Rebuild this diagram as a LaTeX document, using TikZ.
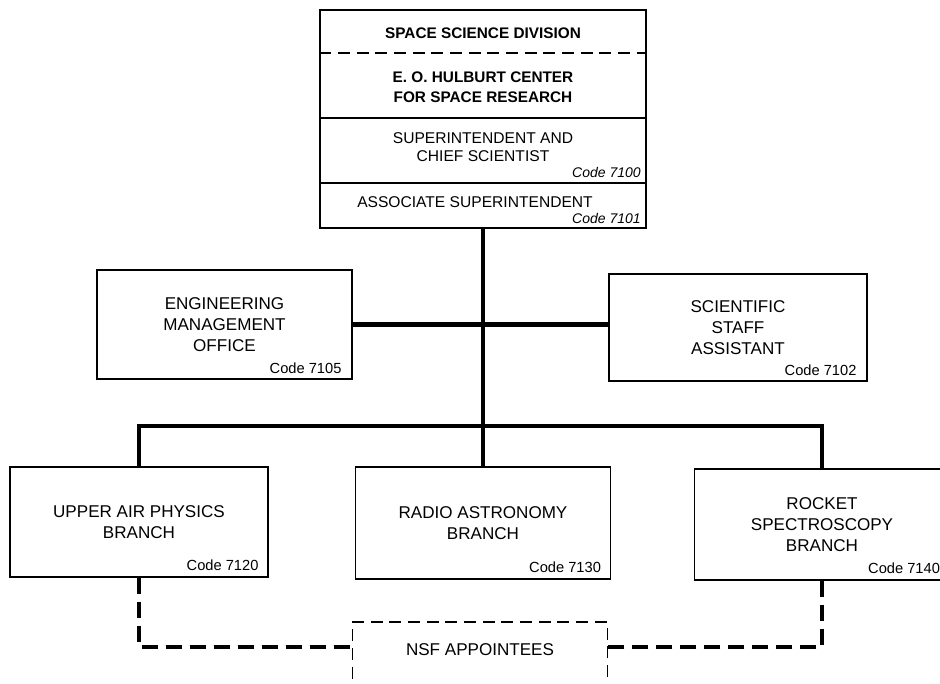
\documentclass[tikz,border=0pt]{standalone}
\usepackage{fontspec}
\setmainfont{Liberation Sans}
\begin{document}
\begin{tikzpicture}[x=0.75pt,y=-0.75pt,
  box/.style={draw=black,line width=1.1pt,inner sep=0pt,align=center,
    font=\fontsize{12.8}{16}\selectfont},
  nsfbox/.style={draw=black,line width=0.8pt,dash pattern=on 9pt off 5pt,inner sep=0pt},
  conn/.style={line width=3.3pt,line cap=rect},
  dconn/.style={line width=3.3pt,dash pattern=on 12pt off 6pt},
  codelbl/.style={anchor=base east,inner sep=0pt,font=\fontsize{11}{12}\selectfont},
  topcode/.style={anchor=base east,inner sep=0pt,font=\fontsize{10.5}{11}\itshape},
  toptxt/.style={align=center,inner sep=0pt,font=\fontsize{11.7}{13.5}\selectfont},
  topbold/.style={align=center,inner sep=0pt,font=\fontsize{11.5}{15}\bfseries}]
\useasboundingbox (0,0) rectangle (940,683);
\clip (0,0) rectangle (940,683);

% top box
\node[box,minimum width=244.5pt,minimum height=163.5pt] (top) at (483,119) {};
\draw[line width=0.8pt,dash pattern=on 9pt off 5pt] (top.west |- 0,53) -- (top.east |- 0,53);
\draw[line width=1.1pt] (top.west |- 0,118) -- (top.east |- 0,118);
\draw[line width=1.1pt] (top.west |- 0,183) -- (top.east |- 0,183);
\node[topbold] (t1) at (483,33) {SPACE SCIENCE DIVISION};
\node[topbold] (t2) at (483,87) {E. O. HULBURT CENTER\\FOR SPACE RESEARCH};
\node[toptxt] (t3) at (483,147) {SUPERINTENDENT AND\\CHIEF SCIENTIST};
\node[topcode] (c7100) at (641,177) {Code 7100};
\node[toptxt] (t4) at (475,202) {ASSOCIATE SUPERINTENDENT};
\node[topcode] (c7101) at (641,223) {Code 7101};

% staff boxes
\node[box,minimum width=191.25pt,minimum height=81.75pt] (eng) at (224.5,324.5) {ENGINEERING\\MANAGEMENT\\OFFICE};
\node[codelbl] (c7105) at ([shift={(-11,-6)}]eng.south east) {Code 7105};
\node[box,minimum width=193.5pt,minimum height=80.25pt] (sci) at (738,327.5) {SCIENTIFIC\\STAFF\\ASSISTANT};
\node[codelbl] (c7102) at ([shift={(-11,-6)}]sci.south east) {Code 7102};

% branches
\node[box,minimum width=193.5pt,minimum height=82.5pt] (upper) at (139,522) {UPPER AIR PHYSICS\\BRANCH};
\node[codelbl] (c7120) at ([shift={(-10,-7)}]upper.south east) {Code 7120};
\node[box,minimum width=191.25pt,minimum height=84pt] (radio) at (483,523) {RADIO ASTRONOMY\\BRANCH};
\node[codelbl] (c7130) at ([shift={(-10,-7)}]radio.south east) {Code 7130};
\node[box,minimum width=191.25pt,minimum height=83.25pt] (rocket) at (822,524.5) {ROCKET\\SPECTROSCOPY\\BRANCH};
\node[codelbl] (c7140) at ([shift={(-10,-7)}]rocket.south east) {Code 7140};

% NSF
\node[nsfbox,minimum width=191.25pt,minimum height=60pt] (nsf) at (480,662) {};
\node[inner sep=0pt,font=\fontsize{12.8}{15}\selectfont] (nsft) at (480,650) {NSF APPOINTEES};

% connectors
\coordinate (busy) at (0,426);
\coordinate (dashy) at (0,647);
\draw[conn] (top.south) -- (radio.north);
\draw[conn] (eng.east) -- (eng.east -| sci.west);
\draw[conn] (upper.north) |- (busy -| rocket.north) -- (rocket.north);
\draw[dconn] (upper.south) |- (dashy -| nsf.west);
\draw[dconn] (rocket.south) |- (dashy -| nsf.east);
\end{tikzpicture}
\end{document}
